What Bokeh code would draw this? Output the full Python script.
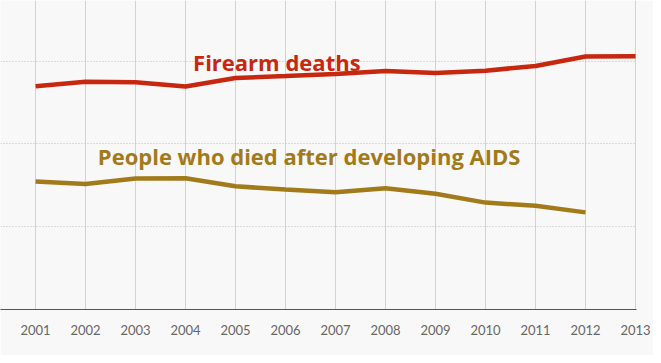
from bokeh.plotting import figure
from bokeh.models import Range1d, Label, FixedTicker
from bokeh.embed import file_html
from bokeh.resources import INLINE

years = [2001, 2002, 2003, 2004, 2005, 2006, 2007, 2008, 2009, 2010, 2011, 2012, 2013]
firearm_deaths = [26960, 27520, 27440, 26930, 27960, 28190, 28440, 28820, 28550, 28850, 29410, 30550, 30590]
aids_years = [2001, 2002, 2003, 2004, 2005, 2006, 2007, 2008, 2009, 2010, 2011, 2012]
aids_deaths = [15470, 15150, 15830, 15860, 14880, 14490, 14170, 14650, 13970, 12910, 12520, 11730]
y_gridlines = [10000, 20000, 30000]

RED = "#c8270f"
GOLD = "#a27a1a"
BG = "#f8f8f8"

p = figure(width=653, height=355, output_backend="svg", toolbar_location=None,
           x_range=Range1d(2000.2984, 2013.02), y_range=Range1d(0, 37321),
           min_border_left=0, min_border_top=0, min_border_right=17, min_border_bottom=46,
           y_axis_location=None)
p.background_fill_color = BG
p.border_fill_color = BG
p.outline_line_color = None

p.xaxis.ticker = FixedTicker(ticks=years)
p.xaxis.major_tick_line_color = None
p.xaxis.minor_tick_line_color = None
p.xaxis.axis_line_color = "#555555"
p.xaxis.axis_line_width = 1.2
p.xaxis.major_label_text_font = "Lato"
p.xaxis.major_label_text_font_size = "13px"
p.xaxis.major_label_text_color = "#666666"
p.xaxis.major_label_standoff = 9

p.xgrid.ticker = FixedTicker(ticks=years)
p.xgrid.grid_line_color = "#d2d2d2"
p.xgrid.grid_line_width = 1
p.ygrid.ticker = FixedTicker(ticks=y_gridlines)
p.ygrid.grid_line_color = "#bdbdbd"
p.ygrid.grid_line_dash = "1 2"
p.ygrid.grid_line_width = 1

p.line(years, firearm_deaths, line_color=RED, line_width=4.5)
p.line(aids_years, aids_deaths, line_color=GOLD, line_width=4.5)

p.add_layout(Label(x=2004.15, y=29845, text="Firearm deaths", text_color=RED,
                   text_font="Open Sans", text_font_style="bold", text_font_size="22px",
                   text_baseline="alphabetic"))
p.add_layout(Label(x=2002.245, y=18507, text="People who died after developing AIDS", text_color=GOLD,
                   text_font="Open Sans", text_font_style="bold", text_font_size="22px",
                   text_baseline="alphabetic"))

open("out.html", "w").write(file_html(p, INLINE))
